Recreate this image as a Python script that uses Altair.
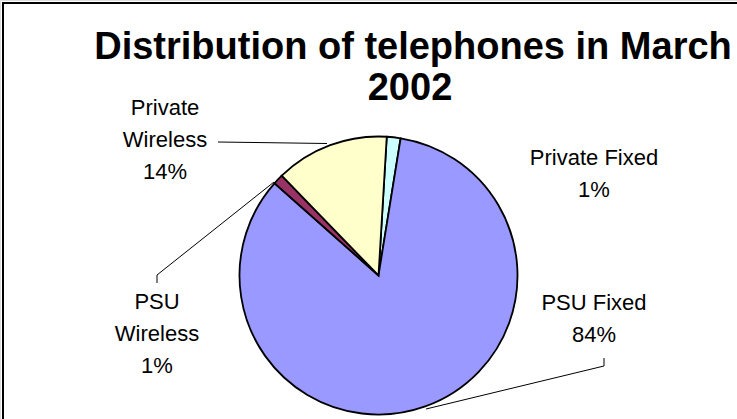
import altair as alt
import pandas as pd
import math

# ---- data ----
categories = ["Private Fixed", "PSU Fixed", "PSU Wireless", "Private Wireless"]
shares = [1.6, 84.0, 1.2, 13.2]
pct_text = ["1%", "84%", "1%", "14%"]
label_lines = [["Private Fixed", "1%"], ["PSU Fixed", "84%"], ["PSU", "Wireless", "1%"], ["Private", "Wireless", "14%"]]
colors = ["#CCFFFF", "#9999FF", "#993366", "#FFFFCC"]
title_lines = ["Distribution of telephones in March", "2002"]

# ---- layout (pixels) ----
W, H = 737, 419
CX, CY, R = 378.5, 275.5, 139
START = math.radians(3.4)
label_anchor = {"Private Fixed": (594, 158), "PSU Fixed": (594, 303),
                "PSU Wireless": (157, 302), "Private Wireless": (165, 108)}
LINE_SP = 32
leaders = [
    (218, 142, 327, 143.5),
    (274, 182, 157, 275), (157, 275, 157, 283),
    (604, 366, 426, 409), (604, 358, 604, 366),
]

pie_df = pd.DataFrame({"cat": categories, "share": shares, "ord": list(range(len(categories)))})

rows = []
for cat, lines in zip(categories, label_lines):
    x0, y0 = label_anchor[cat]
    for i, t in enumerate(lines):
        rows.append({"t": t, "lx": x0, "ly": y0 + i * LINE_SP})
lab_df = pd.DataFrame(rows)

lead_df = pd.DataFrame([{"x": a, "y": b, "x2": c, "y2": d} for a, b, c, d in leaders])

title_df = pd.DataFrame({"t": title_lines, "lx": [413, 410], "ly": [48, 89]})

frame = alt.Chart(pd.DataFrame({"a": [0]})).mark_rect(
    fill="white", stroke="black", strokeWidth=2
).encode(x=alt.value(3), x2=alt.value(W + 20), y=alt.value(3), y2=alt.value(H + 20))

pie = alt.Chart(pie_df).mark_arc(stroke="black", strokeWidth=1.8, outerRadius=R).encode(
    theta=alt.Theta("share:Q", stack=True, scale=alt.Scale(range=[START, START + 2 * math.pi])),
    order=alt.Order("ord:Q"),
    color=alt.Color("cat:N", scale=alt.Scale(domain=categories, range=colors), legend=None),
    x=alt.value(CX), y=alt.value(CY),
)

lead = alt.Chart(lead_df).mark_rule(color="black", strokeWidth=1).encode(
    x=alt.X("x:Q", scale=None), y=alt.Y("y:Q", scale=None),
    x2="x2:Q", y2="y2:Q",
)

labels = alt.Chart(lab_df).mark_text(
    font="Liberation Sans", fontSize=22, align="center", baseline="middle", color="black"
).encode(x=alt.X("lx:Q", scale=None), y=alt.Y("ly:Q", scale=None), text="t:N")

title = alt.Chart(title_df).mark_text(
    font="Liberation Sans", fontSize=38, fontWeight="bold", align="center", baseline="middle", color="black"
).encode(x=alt.X("lx:Q", scale=None), y=alt.Y("ly:Q", scale=None), text="t:N")

chart = alt.layer(frame, lead, pie, labels, title).properties(
    width=W, height=H, padding=0, autosize=alt.AutoSizeParams(type="none")
).configure_view(stroke=None).configure(background="white")

chart.save("out.html", embed_options={"renderer": "svg", "actions": False})
